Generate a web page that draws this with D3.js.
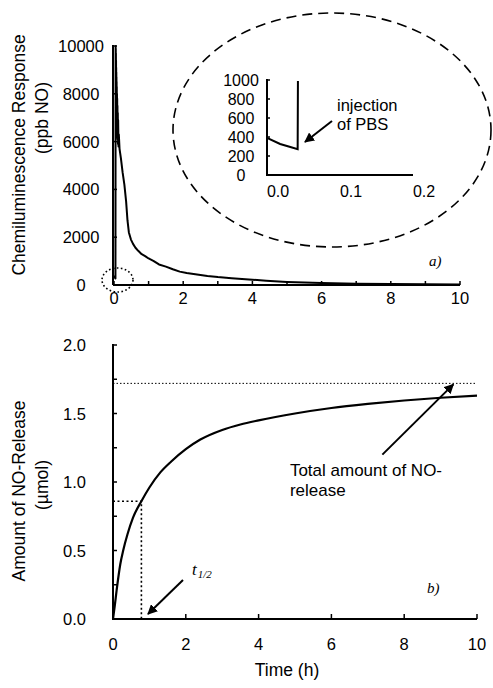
<!DOCTYPE html>
<html>
<head>
<meta charset="utf-8">
<script src="https://cdn.jsdelivr.net/npm/d3@7"></script>
<style>
  body { margin: 0; background: #fff; }
  svg { font-family: "Liberation Sans", Arial, sans-serif; }
  .serif { font-family: "Liberation Serif", "Times New Roman", serif; font-style: italic; }
</style>
</head>
<body>
<div class="canvas"></div>
<script>
// ---------------- data ----------------
// panel a: chemiluminescence trace, [time (h), ppb NO]
const responseTrace = [
  [0, 390], [0.018, 326], [0.032, 295], [0.042, 272], [0.047, 10000],
  [0.049, 7400], [0.051, 9900], [0.053, 6900], [0.055, 9700], [0.057, 7300],
  [0.059, 9400], [0.061, 6700], [0.063, 9100], [0.065, 7100], [0.067, 8900],
  [0.069, 6600], [0.071, 8700], [0.073, 6900], [0.075, 8500], [0.077, 6400],
  [0.08, 8300], [0.083, 6700], [0.086, 8000], [0.089, 6200], [0.092, 7800],
  [0.095, 6400], [0.1, 7500], [0.105, 6100], [0.11, 7200], [0.115, 5900],
  [0.12, 6900], [0.13, 5800], [0.14, 6300], [0.16, 5700], [0.18, 5500],
  [0.2, 5300], [0.25, 4700], [0.3, 4200], [0.35, 3500], [0.39, 2700],
  [0.43, 2200], [0.49, 1900], [0.55, 1720], [0.62, 1560], [0.7, 1430],
  [0.8, 1290], [0.9, 1210], [1.0, 1110], [1.15, 1000], [1.3, 860],
  [1.5, 770], [1.7, 660], [1.9, 560], [2.1, 500], [2.4, 440], [2.7, 380],
  [3.0, 330], [3.4, 280], [3.9, 230], [4.4, 180], [5.0, 130], [5.5, 100],
  [6.0, 80], [7, 55], [8, 40], [9, 30], [10, 25]
];
const responseTicks = [0, 2000, 4000, 6000, 8000, 10000];
const insetTicksY = [0, 200, 400, 600, 800, 1000];
const insetTicksX = [0.0, 0.1, 0.2];
const timeTicksA = [0, 2, 4, 6, 8, 10];

// panel b: cumulative NO release, [time (h), umol]
const releaseCurve = [
  [0, 0], [0.05, 0.1], [0.1, 0.21], [0.2, 0.4], [0.28, 0.5], [0.4, 0.62],
  [0.55, 0.74], [0.78, 0.86], [1.0, 0.96], [1.3, 1.07], [1.6, 1.15],
  [2.0, 1.24], [2.4, 1.31], [3.0, 1.38], [3.5, 1.42], [4.0, 1.45],
  [5.0, 1.50], [6.0, 1.54], [7.0, 1.57], [8.0, 1.595], [9.0, 1.615], [10.0, 1.63]
];
const totalRelease = 1.72;
const tHalf = 0.78;
const halfRelease = 0.86;
const releaseTicks = [0, 0.5, 1.0, 1.5, 2.0];
const timeTicksB = [0, 2, 4, 6, 8, 10];

// ---------------- svg ----------------
const svg = d3.select(".canvas").append("svg")
  .attr("width", 493).attr("height", 688);

const defs = svg.append("defs");
defs.append("marker")
  .attr("id", "head")
  .attr("viewBox", "0 0 10 10")
  .attr("refX", 9).attr("refY", 5)
  .attr("markerWidth", 5).attr("markerHeight", 5)
  .attr("markerUnits", "strokeWidth")
  .attr("orient", "auto")
  .append("path").attr("d", "M0,0 L10,5 L0,10 z").attr("fill", "#000");

const arrow = (g, x1, y1, x2, y2) => g.append("line")
  .attr("x1", x1).attr("y1", y1).attr("x2", x2).attr("y2", y2)
  .attr("stroke", "#000").attr("stroke-width", 2)
  .attr("marker-end", "url(#head)");

// simple axis helpers: ticks drawn inward
function drawLeftAxis(g, y, x0, ticks, fmt, labelX, size, fontSize, anchor) {
  g.append("line").attr("x1", x0).attr("x2", x0)
    .attr("y1", y(d3.min(ticks))).attr("y2", y(d3.max(ticks)) - 1)
    .attr("stroke", "#000").attr("stroke-width", 2);
  g.selectAll(null).data(ticks).enter().append("line")
    .attr("x1", x0).attr("x2", x0 + size)
    .attr("y1", d => y(d)).attr("y2", d => y(d))
    .attr("stroke", "#000").attr("stroke-width", 1.5);
  g.selectAll(null).data(ticks).enter().append("text")
    .attr("x", labelX).attr("y", d => y(d) + 6)
    .attr("text-anchor", anchor || "middle")
    .attr("font-size", fontSize)
    .text(fmt);
}

function drawBottomAxis(g, x, y0, domain, ticks, size) {
  g.append("line").attr("x1", x(domain[0]) - 1).attr("x2", x(domain[1]))
    .attr("y1", y0).attr("y2", y0)
    .attr("stroke", "#000").attr("stroke-width", 2);
  g.selectAll(null).data(ticks).enter().append("line")
    .attr("x1", d => x(d)).attr("x2", d => x(d))
    .attr("y1", y0).attr("y2", y0 - size)
    .attr("stroke", "#000").attr("stroke-width", 1.5);
}

// ================= panel a =================
const ga = svg.append("g");
const xA = d3.scaleLinear().domain([0, 10]).range([114, 460]);
const yA = d3.scaleLinear().domain([0, 10000]).range([285, 46]);

// big dashed ellipse
ga.append("ellipse")
  .attr("cx", 332).attr("cy", 130).attr("rx", 159).attr("ry", 117)
  .attr("fill", "none").attr("stroke", "#000").attr("stroke-width", 1.6)
  .attr("stroke-dasharray", "10,6");

drawLeftAxis(ga, yA, 113, responseTicks, d => d, 81, 4, 16.5);
drawBottomAxis(ga, xA, 285, [0, 10], d3.range(0, 11), 4);
ga.selectAll(null).data(timeTicksA).enter().append("text")
  .attr("x", d => xA(d)).attr("y", 304)
  .attr("text-anchor", "middle").attr("font-size", 16.5)
  .text(d => d);

const lineA = d3.line().x(d => xA(d[0])).y(d => yA(d[1]));
ga.append("path").datum(responseTrace)
  .attr("d", lineA)
  .attr("fill", "none").attr("stroke", "#000")
  .attr("stroke-width", 2).attr("stroke-linejoin", "round");

// small dotted ellipse round the origin
ga.append("ellipse")
  .attr("cx", 117.5).attr("cy", 280).attr("rx", 15.5).attr("ry", 12)
  .attr("fill", "none").attr("stroke", "#000").attr("stroke-width", 1.6)
  .attr("stroke-dasharray", "1.6,2.4");

// titles
ga.append("text")
  .attr("transform", "translate(25,155) rotate(-90)")
  .attr("text-anchor", "middle").attr("font-size", 17.5)
  .text("Chemiluminescence Response");
ga.append("text")
  .attr("transform", "translate(48,118) rotate(-90)")
  .attr("text-anchor", "middle").attr("font-size", 17.5)
  .text("(ppb NO)");
ga.append("text").attr("class", "serif")
  .attr("x", 429).attr("y", 266).attr("font-size", 15)
  .text("a)");

// ----- inset -----
const gi = svg.append("g");
const xI = d3.scaleLinear().domain([0, 0.2]).range([267, 413]);
const yI = d3.scaleLinear().domain([0, 1000]).range([175, 80]);

defs.append("clipPath").attr("id", "insetClip")
  .append("rect").attr("x", 260).attr("y", 81).attr("width", 160).attr("height", 100);

drawLeftAxis(gi, yI, 267, insetTicksY, d => d, 241, 3, 16);
gi.append("line").attr("x1", 266).attr("x2", 413)
  .attr("y1", 175).attr("y2", 175)
  .attr("stroke", "#000").attr("stroke-width", 2);
gi.selectAll(null).data(insetTicksX).enter().append("text")
  .attr("x", d => xI(d) + 11).attr("y", 197)
  .attr("text-anchor", "middle").attr("font-size", 16)
  .text(d => d3.format(".1f")(d));

gi.append("path").datum(responseTrace.filter(d => d[0] <= 0.048))
  .attr("clip-path", "url(#insetClip)")
  .attr("d", d3.line().x(d => xI(d[0])).y(d => yI(d[1])))
  .attr("fill", "none").attr("stroke", "#000").attr("stroke-width", 2);

gi.append("text").attr("x", 337).attr("y", 111).attr("font-size", 16.5).text("injection");
gi.append("text").attr("x", 337).attr("y", 130).attr("font-size", 16.5).text("of PBS");
arrow(gi, 332, 121, 305, 142);

// ================= panel b =================
const gb = svg.append("g");
const xB = d3.scaleLinear().domain([0, 10]).range([113, 477]);
const yB = d3.scaleLinear().domain([0, 2]).range([619, 345]);

// total release dotted line
gb.append("line")
  .attr("x1", xB(0)).attr("x2", xB(10))
  .attr("y1", yB(totalRelease)).attr("y2", yB(totalRelease))
  .attr("stroke", "#000").attr("stroke-width", 1)
  .attr("stroke-dasharray", "1.5,2");

// t1/2 guides
gb.append("polyline")
  .attr("points", [[xB(0), yB(halfRelease)], [xB(tHalf), yB(halfRelease)], [xB(tHalf), yB(0)]].join(" "))
  .attr("fill", "none").attr("stroke", "#000").attr("stroke-width", 1.6)
  .attr("stroke-dasharray", "2,2.5");

drawLeftAxis(gb, yB, 113, d3.range(0, 2.01, 0.25), d => "", 0, 4, 16.5);
gb.selectAll(null).data(releaseTicks).enter().append("text")
  .attr("x", 86).attr("y", d => yB(d) + 6)
  .attr("text-anchor", "end").attr("font-size", 16.5)
  .text(d => d3.format(".1f")(d));

drawBottomAxis(gb, xB, 619, [0, 10], timeTicksB, 5);
gb.selectAll(null).data(timeTicksB).enter().append("text")
  .attr("x", d => xB(d)).attr("y", 650)
  .attr("text-anchor", "middle").attr("font-size", 16.5)
  .text(d => d);

gb.append("path").datum(releaseCurve)
  .attr("d", d3.line().x(d => xB(d[0])).y(d => yB(d[1])).curve(d3.curveMonotoneX))
  .attr("fill", "none").attr("stroke", "#000").attr("stroke-width", 2.2);

// annotations
arrow(gb, xB(7.4), yB(1.2), xB(9.35), yB(totalRelease) + 1);
gb.append("text").attr("x", xB(4.86)).attr("y", 476).attr("font-size", 17).text("Total amount of NO-");
gb.append("text").attr("x", xB(4.86)).attr("y", 496).attr("font-size", 17).text("release");

arrow(gb, 183, 580, 148, 614);
const th = gb.append("text").attr("class", "serif").attr("x", 192).attr("y", 575).attr("font-size", 17);
th.append("tspan").text("t");
th.append("tspan").attr("font-size", 11).attr("dy", 3).attr("dx", 1).text("1/2");

gb.append("text").attr("class", "serif")
  .attr("x", 427).attr("y", 593).attr("font-size", 15)
  .text("b)");

gb.append("text")
  .attr("transform", "translate(25,491) rotate(-90)")
  .attr("text-anchor", "middle").attr("font-size", 17.5)
  .text("Amount of NO-Release");
gb.append("text")
  .attr("transform", "translate(48,485) rotate(-90)")
  .attr("text-anchor", "middle").attr("font-size", 17.5)
  .text("(µmol)");

gb.append("text")
  .attr("x", 287).attr("y", 676)
  .attr("text-anchor", "middle").attr("font-size", 17.5)
  .text("Time (h)");
</script>
</body>
</html>
